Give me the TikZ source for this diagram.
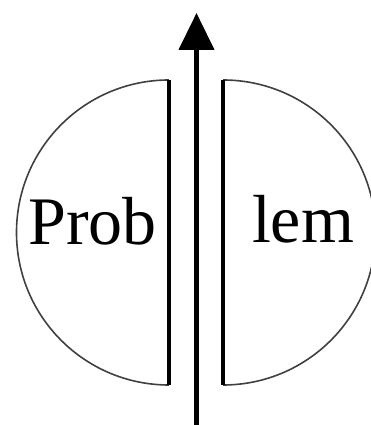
\documentclass[tikz,border=0pt]{standalone}
\usepackage{fontspec}
\setmainfont{Liberation Serif}
\usetikzlibrary{arrows.meta}
\begin{document}
\begin{tikzpicture}[x=1pt,y=1pt,
  arcline/.style={draw=black!75,line width=1.6pt},
  flatline/.style={draw=black,line width=4.5pt},
  mainarrow/.style={draw=black,line width=4.5pt,-{Triangle[length=37pt,width=35pt]}},
  word/.style={font=\fontsize{68}{80}\selectfont,anchor=base,inner sep=0pt}]
\useasboundingbox (0,0) rectangle (371,425);
\clip (0,0) rectangle (371,425);
% left half
\coordinate (ltop) at (169,345);
\coordinate (lbot) at (169,40);
\draw[arcline] (ltop) arc[start angle=90,end angle=270,radius=152.5];
\draw[flatline] (ltop) -- (lbot);
% right half
\coordinate (rtop) at (223,345);
\coordinate (rbot) at (223,40);
\draw[arcline] (rtop) arc[start angle=90,end angle=-90,radius=152.5];
\draw[flatline] (rtop) -- (rbot);
% arrow
\coordinate (abot) at (196.5,-5);
\coordinate (atop) at (196.5,412);
\draw[mainarrow] (abot) -- (atop);
% text
\node[word] (prob) at (92.5,180) {Prob};
\node[word] (lem) at (303,182) {lem};
\end{tikzpicture}
\end{document}
